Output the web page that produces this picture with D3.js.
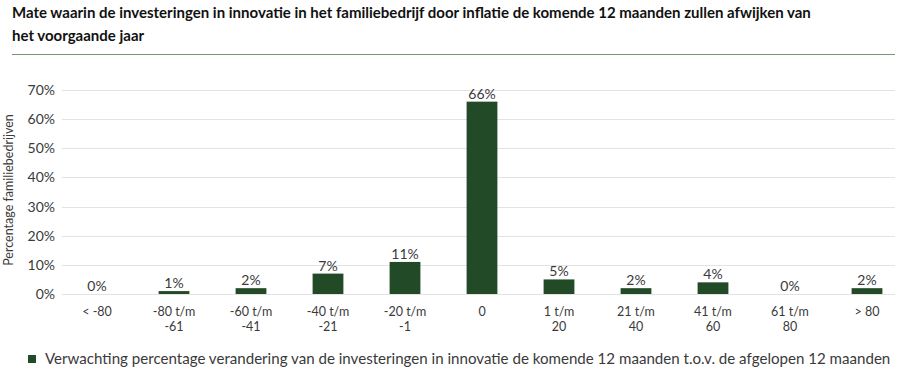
<!DOCTYPE html>
<html><head><meta charset="utf-8">
<script src="https://cdn.jsdelivr.net/npm/d3@7"></script>
<style>body{margin:0;background:#fff;}svg{display:block;font-family:Lato,"Open Sans",sans-serif;}</style>
</head><body><svg id="c" width="900" height="374"></svg>
<script>
const titleLines = ["Mate waarin de investeringen in innovatie in het familiebedrijf door inflatie de komende 12 maanden zullen afwijken van", "het voorgaande jaar"];
const categories = [["< -80"],["-80 t/m","-61"],["-60 t/m","-41"],["-40 t/m","-21"],["-20 t/m","-1"],["0"],["1 t/m","20"],["21 t/m","40"],["41 t/m","60"],["61 t/m","80"],["> 80"]];
const values = [0,1,2,7,11,66,5,2,4,0,2];
const yTicks = [0,10,20,30,40,50,60,70];
const yLabel = "Percentage familiebedrijven";
const legendLabel = "Verwachting percentage verandering van de investeringen in innovatie de komende 12 maanden t.o.v. de afgelopen 12 maanden";

const svg = d3.select("#c");
const green = "#224a26";
const textCol = "#3a3a3a";

svg.selectAll("text.title").data(titleLines).enter().append("text")
  .attr("x", 12).attr("y", (d,i)=>18+i*23)
  .attr("font-size", 15).attr("font-weight", 700).attr("fill", "#111")
  .text(d=>d);
svg.append("line").attr("x1",12).attr("x2",895).attr("y1",54.5).attr("y2",54.5)
  .attr("stroke","#6f9a7c").attr("stroke-width",1.2);

const x = d3.scaleBand().domain(d3.range(categories.length)).range([58.5, 905.5]).paddingInner(0.6).paddingOuter(0.3);
const y = d3.scaleLinear().domain([0,70]).range([294, 90]);

// gridlines
svg.append("g").selectAll("line").data(yTicks).enter().append("line")
  .attr("x1",62).attr("x2",895).attr("y1",d=>Math.round(y(d))+0.5).attr("y2",d=>Math.round(y(d))+0.5)
  .attr("stroke","#e3e3e3").attr("stroke-width",1);

// y axis
const yAxis = svg.append("g").attr("transform","translate(55,0)")
  .call(d3.axisLeft(y).tickValues(yTicks).tickFormat(d=>d+"%").tickSize(0).tickPadding(0));
yAxis.select(".domain").remove();
yAxis.selectAll("text").attr("font-size",14).attr("fill",textCol).attr("font-family","Lato,sans-serif");

svg.append("text").attr("transform","translate(13,190) rotate(-90)")
  .attr("text-anchor","middle").attr("font-size",12.5).attr("fill",textCol).text(yLabel);

// bars
svg.append("g").selectAll("rect").data(values).enter().append("rect")
  .attr("x",(d,i)=>x(i)).attr("width",x.bandwidth())
  .attr("y",d=>y(d)).attr("height",d=>y(0)-y(d)).attr("fill",green);

// value labels
svg.append("g").selectAll("text").data(values).enter().append("text")
  .attr("x",(d,i)=>x(i)+x.bandwidth()/2).attr("y",d=>y(d)-3)
  .attr("text-anchor","middle").attr("font-size",14).attr("fill",textCol).text(d=>d+"%");

// x labels (one text element per line)
const xLines = [];
categories.forEach((lines,i)=>lines.forEach((t,j)=>xLines.push({i,j,t})));
svg.append("g").selectAll("text").data(xLines).enter().append("text")
  .attr("x",d=>x(d.i)+x.bandwidth()/2).attr("y",d=>315.5+d.j*15.3)
  .attr("text-anchor","middle").attr("font-size",12.5).attr("fill",textCol).text(d=>d.t);

// legend
svg.append("rect").attr("x",28).attr("y",355).attr("width",8).attr("height",8).attr("fill",green);
svg.append("text").attr("x",45).attr("y",364).attr("font-size",15.1).attr("fill",textCol).text(legendLabel);
</script></body></html>
